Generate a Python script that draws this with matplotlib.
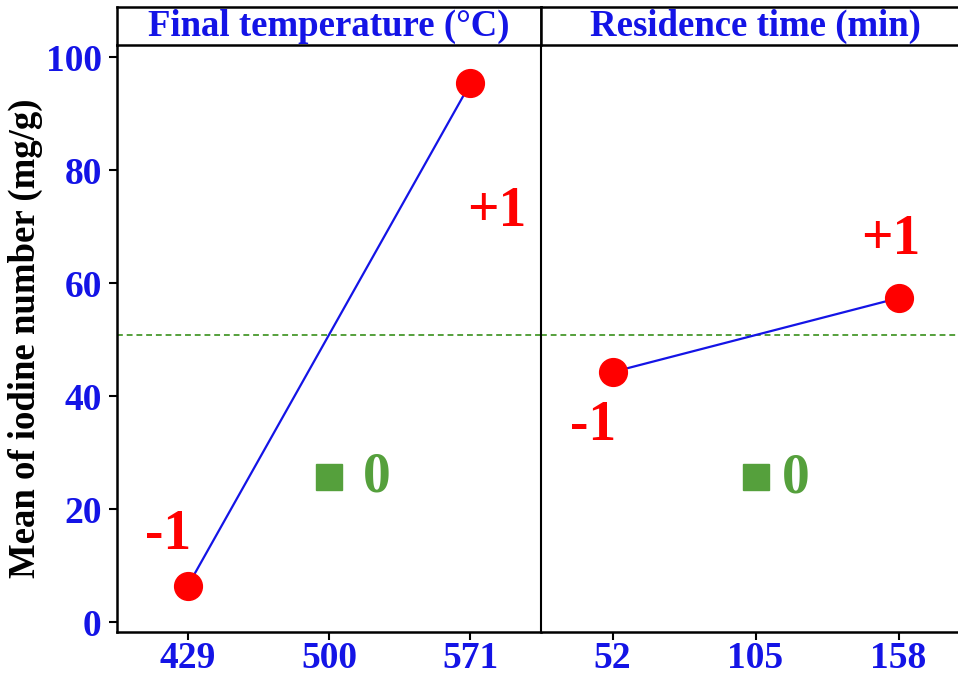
import matplotlib
matplotlib.use("Agg")
import matplotlib.pyplot as plt

plt.rcParams["font.family"] = ["Liberation Serif", "DejaVu Serif"]
plt.rcParams["font.weight"] = "bold"

# Factor levels (coded -1, 0, +1) and their real settings
temp_levels = [429, 500, 571]
time_levels = [52, 105, 158]

# Mean iodine number (mg/g) at the low / high factorial levels
temp_means = [6.4, 95.4]
time_means = [44.3, 57.4]

# Mean of the centre points
center_mean = 25.8

# Overall mean of the factorial runs
grand_mean = 50.85

panel_titles = ["Final temperature (°C)", "Residence time (min)"]
y_ticks = [0, 20, 40, 60, 80, 100]
y_label = "Mean of iodine number (mg/g)"

BLUE = "#1414e6"
RED = "#ff0000"
GREEN = "#55a03c"

fig = plt.figure(figsize=(9.58, 6.77), dpi=100)

px_w, px_h = 958.0, 677.0
plot_top, plot_bot = 45.0, 631.7
head_top = 7.3
panels = [(117.0, 541.0), (541.0, 970.0)]

def fig_rect(x0, x1, ytop, ybot):
    return [x0 / px_w, 1 - ybot / px_h, (x1 - x0) / px_w, (ybot - ytop) / px_h]

levels_all = [temp_levels, time_levels]
means_all = [temp_means, time_means]

label_offsets = [
    [(-14.4, 36.7), (18.7, -92.9)],
    [(-13.7, -38.9), (-5.8, 41.8)],
]
zero_offsets = [(34.6, -0.7), (28.8, -1.4)]

for i, (x0, x1) in enumerate(panels):
    ax = fig.add_axes(fig_rect(x0, x1, plot_top, plot_bot))
    lv = levels_all[i]
    mv = means_all[i]
    span = lv[-1] - lv[0]
    ax.set_xlim(lv[0] - 0.25 * span, lv[-1] + 0.25 * span)
    ax.set_ylim(-1.66, 102.2)

    ax.axhline(grand_mean, color=GREEN, lw=1.4, ls=(0, (3, 2)), zorder=1)
    ax.plot([lv[0], lv[-1]], mv, color=BLUE, lw=1.6, zorder=2)
    ax.plot([lv[0], lv[-1]], mv, ls="none", marker="o", ms=20,
            color=RED, mec=RED, zorder=3)
    ax.plot([lv[1]], [center_mean], ls="none", marker="s", ms=19,
            color=GREEN, mec=GREEN, zorder=3)

    for (xv, yv), txt, off in zip(zip([lv[0], lv[-1]], mv), ["-1", "+1"],
                                   label_offsets[i]):
        ax.annotate(txt, xy=(xv, yv), xytext=off, textcoords="offset points",
                    ha="center", va="center", color=RED, fontsize=40,
                    fontweight="bold")
    ax.annotate("0", xy=(lv[1], center_mean), xytext=zero_offsets[i],
                textcoords="offset points", ha="center", va="center",
                color=GREEN, fontsize=40, fontweight="bold")

    ax.set_xticks(lv)
    ax.set_xticklabels([str(v) for v in lv])
    ax.tick_params(axis="x", direction="out", length=6, width=1.5,
                   labelsize=27, labelcolor=BLUE, pad=1)
    for s in ["top", "right"]:
        ax.spines[s].set_visible(False)
    ax.spines["bottom"].set_linewidth(1.8)
    if i == 0:
        ax.set_yticks(y_ticks)
        ax.tick_params(axis="y", direction="out", length=6, width=1.5,
                       labelsize=27, labelcolor=BLUE, pad=5)
        ax.spines["left"].set_linewidth(1.8)
        ax.set_ylabel(y_label, fontsize=26.5, fontweight="bold", color="black",
                      labelpad=2)
    else:
        ax.set_yticks([])
        ax.spines["left"].set_linewidth(1.5)
    for lab in ax.get_xticklabels() + ax.get_yticklabels():
        lab.set_fontweight("bold")

    # panel header strip
    hx = fig.add_axes(fig_rect(x0, x1, head_top, plot_top))
    hx.set_xticks([])
    hx.set_yticks([])
    for s in hx.spines.values():
        s.set_linewidth(1.8)
        s.set_color("black")
    hx.text(0.5, 0.5, panel_titles[i], transform=hx.transAxes, ha="center",
            va="center", color=BLUE, fontsize=26.5, fontweight="bold")

fig.savefig("out.png", dpi=100)
